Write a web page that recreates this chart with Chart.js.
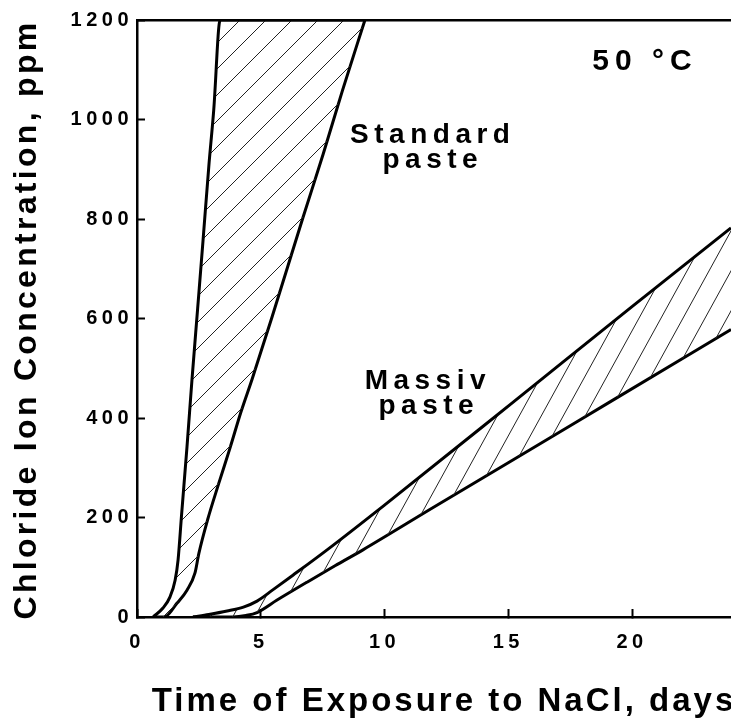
<!DOCTYPE html>
<html>
<head>
<meta charset="utf-8">
<title>Chloride Ion Concentration - 50 °C</title>
<script src="https://cdn.jsdelivr.net/npm/chart.js@4.4.1/dist/chart.umd.min.js"></script>
<style>
  html, body { margin: 0; padding: 0; background: #fff; }
  canvas { display: block; }
</style>
</head>
<body>
<canvas id="grafik" width="731" height="728"></canvas>
<script>
// ===============================
// DATA (days / ppm)
// ===============================
// Standard paste - fast edge (left curve), runs along the top border after 1200
const stdFastDays = [0.65, 1.05, 1.33, 1.54, 1.66, 1.8, 2.02, 2.22, 2.45, 2.67, 2.9, 3.1, 3.36, 9.21];
const stdFastPpm  = [0,    18,   40,   74,   115,  205, 342,  476,  620,  758,  905, 1019, 1200, 1200];

// Standard paste - slow edge (right curve)
const stdSlowDays = [0.65, 1.1, 1.62, 2.02, 2.34, 2.5, 2.85, 3.3, 3.76, 4.2, 4.65, 5.45, 6.7, 7.52, 8.3, 9.21];
const stdSlowPpm  = [0,    0,   28,   54,   88,   128, 195,  268, 340,  412, 478,  602,  802, 930,  1058, 1200];

// Massiv paste - fast edge (upper line)
const msvFastDays = [2.26, 2.9, 3.64, 4.3, 4.85, 5.5, 6.3, 7.68, 10,  15.2, 20,  24];
const msvFastPpm  = [0,    5,   12,   20,  32,   55,  84,  135,  225, 432,  624, 782];

// Massiv paste - slow edge (lower line)
const msvSlowDays = [2.26, 3.88, 4.4, 4.85, 5.66, 6.87, 8.0, 9.13, 12,  15,  19.23, 24];
const msvSlowPpm  = [0,    0,    3,   9,    34,   70,   103, 135,  221, 310, 436,   578];

const xTicks = [0, 5, 10, 15, 20];
const yTicks = [0, 200, 400, 600, 800, 1000, 1200];

const xTitle = "Time of Exposure to NaCl, days";
const yTitle = "Chloride Ion Concentration, ppm";

// text placed in the plot (data coordinates of centre / baseline)
const notes = [
  { text: "50 °C",    day: 20.4,  ppm: 1099, size: 30, gap: 6 },
  { text: "Standard", day: 11.84, ppm: 953,  size: 28, gap: 5.5 },
  { text: "paste",    day: 11.84, ppm: 902,  size: 28, gap: 5.5 },
  { text: "Massiv",   day: 11.64, ppm: 458,  size: 28, gap: 5.5 },
  { text: "paste",    day: 11.68, ppm: 408,  size: 28, gap: 5.5 }
];

const FONT = '"Liberation Sans", Arial, Helvetica, sans-serif';

function noktalar(xs, ys) {
  return xs.map((x, i) => ({ x: x, y: ys[i] }));
}

// diagonal hatch pattern
function tarama(w, h) {
  const c = document.createElement("canvas");
  c.width = w;
  c.height = h;
  const g = c.getContext("2d");
  g.strokeStyle = "#222";
  g.lineWidth = 1;
  g.beginPath();
  for (const dx of [-w, 0, w]) {
    g.moveTo(dx, h);
    g.lineTo(dx + w, 0);
  }
  g.stroke();
  return g.createPattern(c, "repeat");
}

const hatchStd = tarama(26, 26);
const hatchMsv = tarama(22, 40);

const cizgi = {
  borderColor: "#000",
  borderWidth: 3,
  pointRadius: 0,
  cubicInterpolationMode: "monotone"
};

// letter spacing for tick labels, axis titles + in-plot labels
const yaziEklentisi = {
  id: "yazilar",
  beforeDraw(chart) {
    chart.ctx.letterSpacing = "4.5px";
  },
  afterDraw(chart) {
    const ctx = chart.ctx;
    const sx = chart.scales.x;
    const sy = chart.scales.y;
    const alan = chart.chartArea;
    ctx.save();
    ctx.fillStyle = "#000";
    ctx.textAlign = "center";
    ctx.textBaseline = "alphabetic";

    // x axis title
    ctx.font = "bold 33px " + FONT;
    ctx.letterSpacing = "3px";
    ctx.fillText(xTitle, (alan.left + alan.right) / 2 + 10, 711);

    // y axis title
    ctx.save();
    ctx.font = "bold 32px " + FONT;
    ctx.letterSpacing = "3.3px";
    ctx.translate(36, (alan.top + alan.bottom) / 2 + 1);
    ctx.rotate(-Math.PI / 2);
    ctx.fillText(yTitle, 0, 0);
    ctx.restore();

    notes.forEach(n => {
      ctx.font = "bold " + n.size + "px " + FONT;
      ctx.letterSpacing = n.gap + "px";
      ctx.fillText(n.text, sx.getPixelForValue(n.day) + n.gap / 2, sy.getPixelForValue(n.ppm));
    });
    ctx.restore();
  }
};

Chart.defaults.font.family = FONT;
Chart.defaults.color = "#000";

new Chart(document.getElementById("grafik"), {
  type: "line",
  data: {
    datasets: [
      Object.assign({ label: "Standard fast", data: noktalar(stdFastDays, stdFastPpm), fill: "+1", backgroundColor: hatchStd }, cizgi),
      Object.assign({ label: "Standard slow", data: noktalar(stdSlowDays, stdSlowPpm), fill: false }, cizgi),
      Object.assign({ label: "Massiv fast", data: noktalar(msvFastDays, msvFastPpm), fill: "+1", backgroundColor: hatchMsv }, cizgi),
      Object.assign({ label: "Massiv slow", data: noktalar(msvSlowDays, msvSlowPpm), fill: false }, cizgi)
    ]
  },
  options: {
    responsive: false,
    animation: false,
    layout: { padding: 0 },
    plugins: {
      legend: { display: false },
      tooltip: { enabled: false }
    },
    scales: {
      x: {
        type: "linear",
        position: "bottom",
        min: 0,
        max: 24,
        afterBuildTicks: s => { s.ticks = xTicks.map(v => ({ value: v })); },
        afterFit: s => { s.height = 111; s.paddingLeft = 0; s.paddingRight = 0; },
        ticks: {
          font: { size: 20, weight: "bold" },
          padding: 21,
          maxRotation: 0,
          callback: v => String(v)
        },
        grid: { drawOnChartArea: false, tickLength: -8, tickColor: "#000", tickWidth: 2 },
        border: { color: "#000", width: 2.5 },
        title: { display: false, text: xTitle }
      },
      xTop: {
        type: "linear",
        position: "top",
        min: 0,
        max: 24,
        afterFit: s => { s.height = 20; s.paddingLeft = 0; s.paddingRight = 0; },
        ticks: { display: false },
        grid: { display: false },
        border: { color: "#000", width: 2.5 }
      },
      y: {
        type: "linear",
        position: "left",
        min: 0,
        max: 1200,
        afterBuildTicks: s => { s.ticks = yTicks.map(v => ({ value: v })); },
        afterFit: s => { s.width = 137; s.paddingTop = 0; s.paddingBottom = 0; },
        ticks: {
          font: { size: 20, weight: "bold" },
          padding: 12,
          callback: v => String(v)
        },
        grid: { drawOnChartArea: false, tickLength: -8, tickColor: "#000", tickWidth: 2 },
        border: { color: "#000", width: 2.5 },
        title: { display: false, text: yTitle }
      }
    }
  },
  plugins: [yaziEklentisi]
});
</script>
</body>
</html>
